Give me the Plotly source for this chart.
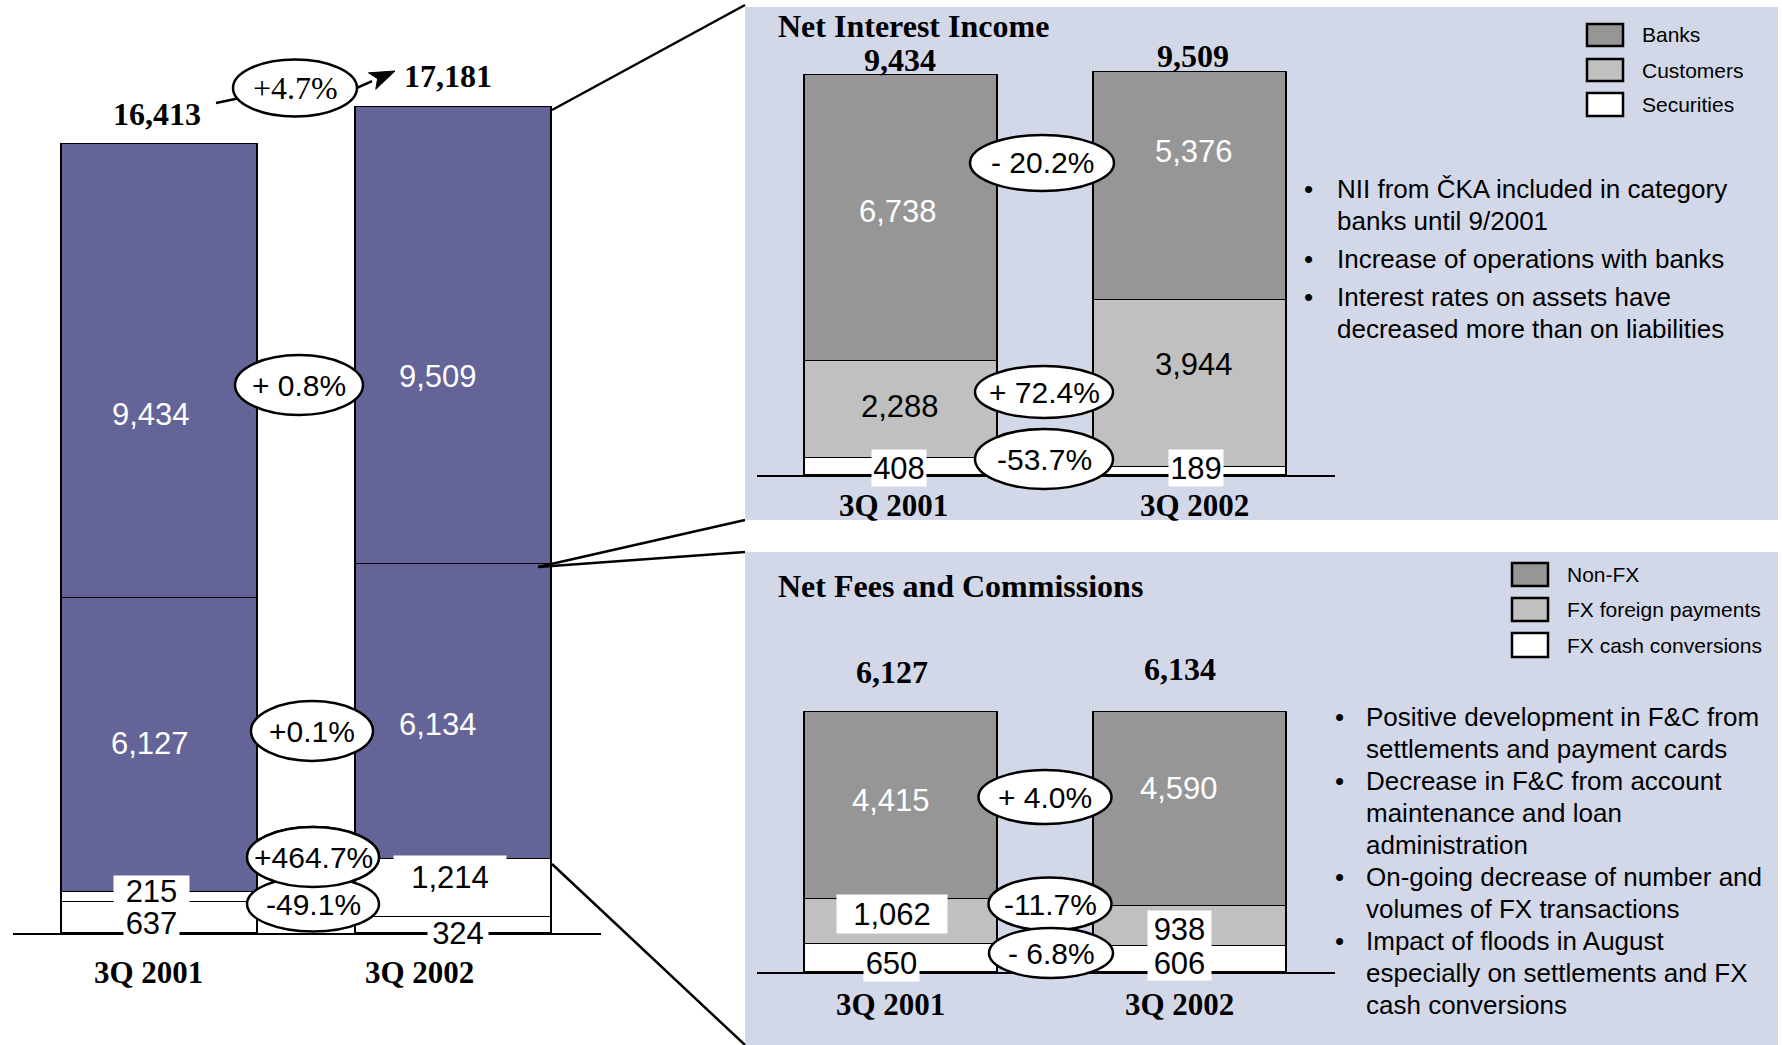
import plotly.graph_objects as go

# ---------------------------------------------------------------- data
periods = ["3Q 2001", "3Q 2002"]

# Operating income (left chart), stacked bottom -> top
op_other_a = [637, 324]
op_other_b = [215, 1214]
op_fees = [6127, 6134]
op_nii = [9434, 9509]
op_total = [16413, 17181]
op_changes = ["+4.7%", "+ 0.8%", "+0.1%", "+464.7%", "-49.1%"]

# Net interest income, stacked bottom -> top
nii_securities = [408, 189]
nii_customers = [2288, 3944]
nii_banks = [6738, 5376]
nii_total = [9434, 9509]
nii_changes = ["- 20.2%", "+ 72.4%", "-53.7%"]
nii_legend = ["Banks", "Customers", "Securities"]
nii_notes = [
    ["NII from ČKA included in category", "banks until 9/2001"],
    ["Increase of operations with banks"],
    ["Interest rates on assets have", "decreased more than on liabilities"],
]

# Net fees and commissions, stacked bottom -> top
fc_cash = [650, 606]
fc_payments = [1062, 938]
fc_nonfx = [4415, 4590]
fc_total = [6127, 6134]
fc_changes = ["+ 4.0%", "-11.7%", "- 6.8%"]
fc_legend = ["Non-FX", "FX foreign payments", "FX cash conversions"]
fc_notes = [
    ["Positive development in F&C from", "settlements and payment cards"],
    ["Decrease in F&C from account", "maintenance and loan", "administration"],
    ["On-going decrease of number and", "volumes of FX transactions"],
    ["Impact of floods in August", "especially on settlements and FX", "cash conversions"],
]

# ---------------------------------------------------------------- style
W, H = 1782, 1045
SANS = "Liberation Sans, Arial, sans-serif"
SERIF = "Liberation Serif, Times New Roman, serif"
PURPLE = "#646498"
DARK = "#969696"
LIGHT = "#C0C0C0"
PANEL = "#D3D8E8"
BAR_W = 0.67
VAL = 31      # value label size
TOT = 32      # bold totals / titles
CAT = 31      # category labels
xi = [0, 1]


def fmt(v):
    return f"{v:,}"


def px(x):
    return x / W


def py(y):
    return 1 - y / H


fig = go.Figure()


def add_bar(vals, color, xa, ya, name):
    fig.add_trace(go.Bar(
        x=xi, y=vals, width=BAR_W, name=name, showlegend=False,
        marker=dict(color=color, line=dict(color="black", width=1.5)),
        xaxis=xa, yaxis=ya, hoverinfo="skip"))


add_bar(op_other_a, "white", "x", "y", "Other A")
add_bar(op_other_b, "white", "x", "y", "Other B")
add_bar(op_fees, PURPLE, "x", "y", "Net fees and commissions")
add_bar(op_nii, PURPLE, "x", "y", "Net interest income")

add_bar(nii_securities, "white", "x2", "y2", nii_legend[2])
add_bar(nii_customers, LIGHT, "x2", "y2", nii_legend[1])
add_bar(nii_banks, DARK, "x2", "y2", nii_legend[0])

add_bar(fc_cash, "white", "x3", "y3", fc_legend[2])
add_bar(fc_payments, LIGHT, "x3", "y3", fc_legend[1])
add_bar(fc_nonfx, DARK, "x3", "y3", fc_legend[0])


def xaxis(d0, d1, anchor):
    return dict(domain=[px(d0), px(d1)], range=[-0.5, 1.5], anchor=anchor,
                showline=True, linecolor="black", linewidth=1.5,
                showgrid=False, zeroline=False, showticklabels=False,
                ticks="", fixedrange=True)


def yaxis(base, top, scale, anchor):
    return dict(domain=[py(base), py(top)], range=[0, (base - top) / scale],
                anchor=anchor, visible=False, showgrid=False, zeroline=False,
                fixedrange=True)


shapes = []
annotations = []

# panels
for (x0, y0, x1, y1) in [(745, 7, 1778, 520), (745, 552, 1778, 1045)]:
    shapes.append(dict(type="rect", xref="paper", yref="paper",
                       x0=px(x0), x1=px(x1), y0=py(y1), y1=py(y0),
                       fillcolor=PANEL, line=dict(width=0), layer="below"))

# connector lines
for (a, b, c, d) in [(552, 110, 745, 5), (538, 567, 745, 520),
                     (538, 567, 745, 552), (552, 864, 745, 1045)]:
    shapes.append(dict(type="line", xref="paper", yref="paper",
                       x0=px(a), y0=py(b), x1=px(c), y1=py(d),
                       line=dict(color="black", width=2.5), layer="above"))

# arrow of the total change
shapes.append(dict(type="line", xref="paper", yref="paper",
                   x0=px(216), y0=py(103), x1=px(240), y1=py(98),
                   line=dict(color="black", width=2.5), layer="above"))
tip = (395, 71)
tail = (352, 90)
dx, dy = tip[0] - tail[0], tip[1] - tail[1]
ln = (dx * dx + dy * dy) ** 0.5
ux, uy = dx / ln, dy / ln
nx, ny = -uy, ux
hl, hw = 25, 9
bx, by = tip[0] - hl * ux, tip[1] - hl * uy
shapes.append(dict(type="line", xref="paper", yref="paper",
                   x0=px(tail[0]), y0=py(tail[1]), x1=px(bx), y1=py(by),
                   line=dict(color="black", width=2.5), layer="above"))
notch = (bx + 6 * ux, by + 6 * uy)
pts = [tip, (bx + hw * nx, by + hw * ny), notch, (bx - hw * nx, by - hw * ny)]
path = "M " + " L ".join(f"{px(a):.5f},{py(b):.5f}" for a, b in pts) + " Z"
shapes.append(dict(type="path", xref="paper", yref="paper", path=path,
                   fillcolor="black", line=dict(color="black", width=1),
                   layer="above"))


def text(x, y, s, size=VAL, color="black", family=SANS, bold=False,
         xanchor="center", bg=None, w=None, h=None):
    a = dict(x=px(x), y=py(y), xref="paper", yref="paper", text=s,
             showarrow=False, xanchor=xanchor, yanchor="middle",
             font=dict(family=family, size=size, color=color,
                       weight="bold" if bold else "normal"))
    if bg:
        a["bgcolor"] = bg
        a["borderpad"] = 0
    if w:
        a["width"] = w
    if h:
        a["height"] = h
        a["valign"] = "middle"
    annotations.append(a)


def ellipse(cx, cy, w, h, label, family=SANS, size=30):
    shapes.append(dict(type="circle", xref="paper", yref="paper",
                       x0=px(cx - w / 2), x1=px(cx + w / 2),
                       y0=py(cy + h / 2), y1=py(cy - h / 2),
                       fillcolor="white", line=dict(color="black", width=2.5),
                       layer="above"))
    text(cx, cy, label, size=size, family=family)


# ---- left chart labels
text(157, 114, fmt(op_total[0]), size=TOT, family=SERIF, bold=True)
text(448, 76, fmt(op_total[1]), size=TOT, family=SERIF, bold=True)
text(148, 972, periods[0], size=CAT, family=SERIF, bold=True)
text(419, 972, periods[1], size=CAT, family=SERIF, bold=True)
text(151, 414, fmt(op_nii[0]), color="white")
text(438, 377, fmt(op_nii[1]), color="white")
text(150, 743, fmt(op_fees[0]), color="white")
text(438, 724, fmt(op_fees[1]), color="white")
text(151, 891, fmt(op_other_b[0]), bg="white", w=75, h=31)
text(151, 923, fmt(op_other_a[0]), bg="white", w=55, h=30)
text(450, 877, fmt(op_other_b[1]), bg="white", w=112, h=42)
text(458, 933, fmt(op_other_a[1]), bg="white", w=60, h=28)

ellipse(295, 88, 124, 57, op_changes[0], family=SERIF, size=32)
ellipse(299, 385, 128, 60, op_changes[1])
ellipse(312, 731, 122, 60, op_changes[2])
ellipse(313, 857, 132, 60, op_changes[3])
ellipse(313, 904, 132, 55, op_changes[4])
# redraw the upper ellipse on top of the lower one
shapes.append(dict(shapes[-2]))

# ---- NII panel
text(776, 26, "Net Interest Income", size=TOT, family=SERIF, bold=True, xanchor="left")
text(900, 60, fmt(nii_total[0]), size=TOT, family=SERIF, bold=True)
text(1193, 56, fmt(nii_total[1]), size=TOT, family=SERIF, bold=True)
text(893, 506, periods[0], size=CAT, family=SERIF, bold=True)
text(1194, 506, periods[1], size=CAT, family=SERIF, bold=True)
text(898, 211, fmt(nii_banks[0]), color="white")
text(1194, 151, fmt(nii_banks[1]), color="white")
text(900, 406, fmt(nii_customers[0]))
text(1194, 365, fmt(nii_customers[1]))
text(899, 468, fmt(nii_securities[0]), bg="white", w=54, h=36)
text(1196, 468, fmt(nii_securities[1]), bg="white", w=54, h=36)
ellipse(1042, 163, 144, 56, nii_changes[0])
ellipse(1044, 392, 138, 52, nii_changes[1])
ellipse(1044, 459, 138, 60, nii_changes[2])

# ---- F&C panel
text(776, 586, "Net Fees and Commissions", size=TOT, family=SERIF, bold=True, xanchor="left")
text(892, 672, fmt(fc_total[0]), size=TOT, family=SERIF, bold=True)
text(1180, 669, fmt(fc_total[1]), size=TOT, family=SERIF, bold=True)
text(890, 1004, periods[0], size=CAT, family=SERIF, bold=True)
text(1179, 1004, periods[1], size=CAT, family=SERIF, bold=True)
text(891, 800, fmt(fc_nonfx[0]), color="white")
text(1179, 788, fmt(fc_nonfx[1]), color="white")
text(892, 914, fmt(fc_payments[0]), bg="white", w=110, h=38)
text(1179, 929, fmt(fc_payments[1]), bg="white", w=63, h=36)
text(891, 963, fmt(fc_cash[0]), bg="white", w=55, h=36)
text(1179, 963, fmt(fc_cash[1]), bg="white", w=63, h=34)
ellipse(1045, 797, 133, 54, fc_changes[0])
ellipse(1050, 904, 123, 53, fc_changes[1])
ellipse(1051, 953, 124, 50, fc_changes[2])


# ---- legends
def legend(x0, ys, names, colors):
    for (y0, y1), nm, col in zip(ys, names, colors):
        shapes.append(dict(type="rect", xref="paper", yref="paper",
                           x0=px(x0), x1=px(x0 + 36), y0=py(y1), y1=py(y0),
                           fillcolor=col, line=dict(color="black", width=2.5),
                           layer="above"))
        text(x0 + 53, (y0 + y1) / 2, nm, size=21, xanchor="left")


legend(1587, [(24, 46), (59, 81), (93, 116)], nii_legend, [DARK, LIGHT, "white"])
legend(1512, [(563, 586), (598, 621), (633, 657)], fc_legend, [DARK, LIGHT, "white"])


# ---- bullet notes
def notes(bx_, tx_, y0, gap, para, groups):
    y = y0
    for g in groups:
        text(bx_, y, "•", size=26)
        for line in g:
            text(tx_, y, line, size=26, xanchor="left")
            y += gap
        y += para


notes(1308, 1335, 189, 32, 6, nii_notes)
notes(1339, 1364, 717, 31.8, 0.5, fc_notes)

fig.update_layout(
    width=W, height=H, autosize=False,
    margin=dict(l=0, r=0, t=0, b=0),
    paper_bgcolor="white", plot_bgcolor="rgba(0,0,0,0)",
    barmode="stack", bargap=0,
    showlegend=False,
    xaxis=xaxis(12.5, 600.5, "y"),
    yaxis=yaxis(933, 0, 0.04805, "x"),
    xaxis2=xaxis(756.5, 1334.5, "y2"),
    yaxis2=yaxis(475, 8, 0.0424, "x2"),
    xaxis3=xaxis(756.5, 1334.5, "y3"),
    yaxis3=yaxis(972, 553, 0.04244, "x3"),
    shapes=shapes,
    annotations=annotations,
)

fig.write_html("out.html")
